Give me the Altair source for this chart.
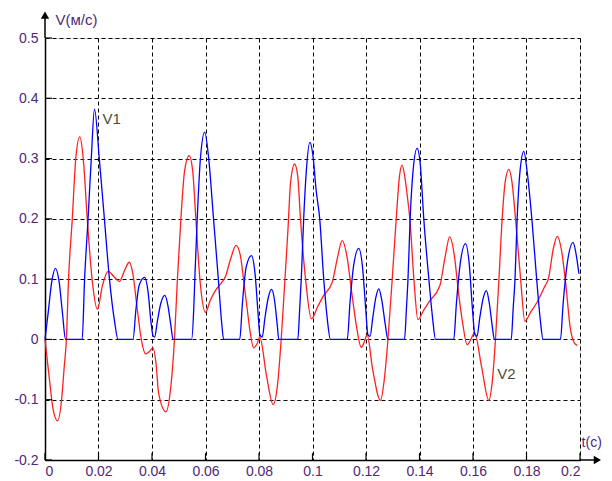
import altair as alt
import pandas as pd

# ---- data ----
v1_t = [0, 0.0012, 0.0025, 0.0039, 0.0053, 0.0065, 0.0077,
        0.0139, 0.0148, 0.0161, 0.0173, 0.0185, 0.0203, 0.0222, 0.0241, 0.0260, 0.0273,
        0.0329, 0.0340, 0.0352, 0.0373, 0.0385, 0.0396, 0.0404, 0.0410, 0.0420, 0.0433, 0.0448, 0.0460, 0.0470, 0.0479,
        0.0548, 0.0556, 0.0560, 0.0569, 0.0581, 0.0597, 0.0612, 0.0630, 0.0648, 0.0660, 0.0668,
        0.0728, 0.0738, 0.0752, 0.0772, 0.0785, 0.0797, 0.0803, 0.0812, 0.0822, 0.0835, 0.0847, 0.0858, 0.0868, 0.0874,
        0.0945, 0.0952, 0.0958, 0.0967, 0.0977, 0.0990, 0.1003, 0.1013, 0.1027, 0.1042, 0.1055, 0.1067,
        0.1130, 0.1140, 0.1153, 0.1173, 0.1187, 0.1199, 0.1207, 0.1215, 0.1225, 0.1237, 0.1248, 0.1259, 0.1272, 0.1282,
        0.1344, 0.1351, 0.1357, 0.1365, 0.1376, 0.1391, 0.1403, 0.1416, 0.1435, 0.1449, 0.1460,
        0.1528, 0.1538, 0.1552, 0.1572, 0.1586, 0.1598, 0.1607, 0.1615, 0.1625, 0.1638, 0.1650, 0.1661, 0.1672, 0.1680,
        0.1743, 0.1750, 0.1757, 0.1765, 0.1776, 0.1790, 0.1802, 0.1820, 0.1838, 0.1851, 0.1862,
        0.1927, 0.1937, 0.1952, 0.1974, 0.1986, 0.1996]
v1_v = [0, 0.045, 0.095, 0.118, 0.095, 0.045, 0,
        0, 0.10, 0.20, 0.30, 0.382, 0.30, 0.20, 0.10, 0.03, 0,
        0, 0.05, 0.09, 0.103, 0.08, 0.03, 0.006, 0.004, 0.03, 0.06, 0.073, 0.055, 0.025, 0,
        0, 0.05, 0.10, 0.20, 0.30, 0.344, 0.30, 0.20, 0.10, 0.03, 0,
        0, 0.06, 0.12, 0.139, 0.11, 0.04, 0.008, 0.004, 0.035, 0.07, 0.083, 0.065, 0.025, 0,
        0, 0.05, 0.10, 0.20, 0.28, 0.327, 0.30, 0.25, 0.20, 0.10, 0.035, 0,
        0, 0.06, 0.12, 0.151, 0.12, 0.05, 0.008, 0.005, 0.035, 0.07, 0.084, 0.065, 0.025, 0,
        0, 0.05, 0.10, 0.20, 0.28, 0.317, 0.29, 0.20, 0.10, 0.035, 0,
        0, 0.06, 0.125, 0.159, 0.125, 0.05, 0.008, 0.005, 0.035, 0.068, 0.081, 0.06, 0.022, 0,
        0, 0.05, 0.10, 0.20, 0.28, 0.312, 0.28, 0.20, 0.10, 0.035, 0,
        0, 0.06, 0.125, 0.161, 0.14, 0.109]

v2_t = [0, 0.0015, 0.0030, 0.0047, 0.0062, 0.0072, 0.0080, 0.0088, 0.0102, 0.0115, 0.0130, 0.0143, 0.0158, 0.0176,
        0.0196, 0.0215, 0.0236, 0.0258, 0.0278, 0.0298, 0.0315, 0.0328, 0.0345, 0.0360, 0.0376, 0.0390, 0.0404,
        0.0415, 0.0425, 0.0452, 0.0470, 0.0484, 0.0495, 0.0508, 0.0522, 0.0539, 0.0552, 0.0564, 0.0579,
        0.0600, 0.0618, 0.0637, 0.0656, 0.0675, 0.0695, 0.0714, 0.0730, 0.0743, 0.0756, 0.0766, 0.0780, 0.0792,
        0.0803, 0.0828, 0.0853, 0.0868, 0.0883, 0.0897, 0.0908, 0.0918, 0.0933, 0.0945, 0.0955, 0.0974,
        0.0996, 0.1020, 0.1042, 0.1074, 0.1093, 0.1111, 0.1128, 0.1148, 0.1165, 0.1182, 0.1193, 0.1204,
        0.1225, 0.1254, 0.1270, 0.1282, 0.1298, 0.1313, 0.1325, 0.1335, 0.1345, 0.1354, 0.1364, 0.1379,
        0.1394, 0.1415, 0.1435, 0.1476, 0.1495, 0.1513, 0.1530, 0.1547, 0.1562, 0.1578, 0.1592, 0.1606,
        0.1632, 0.1659, 0.1672, 0.1684, 0.1697, 0.1709, 0.1720, 0.1734, 0.1746, 0.1759, 0.1778,
        0.1794, 0.1815, 0.1840, 0.1865, 0.1883, 0.1900, 0.1915, 0.1930, 0.1946, 0.1964, 0.1978, 0.1990]
v2_v = [0, -0.06, -0.115, -0.135, -0.10, -0.045, 0, 0.10, 0.20, 0.30, 0.336, 0.30, 0.20, 0.10,
        0.05, 0.09, 0.113, 0.104, 0.096, 0.115, 0.128, 0.11, 0.05, 0.0, -0.024, -0.02, -0.014,
        -0.04, -0.09, -0.12, -0.08, 0, 0.10, 0.20, 0.28, 0.305, 0.28, 0.20, 0.10,
        0.045, 0.065, 0.081, 0.092, 0.105, 0.135, 0.156, 0.14, 0.097, 0.05, 0.015, -0.014, -0.008,
        0.004, -0.06, -0.108, -0.08, 0, 0.10, 0.18, 0.26, 0.291, 0.27, 0.20, 0.10,
        0.034, 0.055, 0.073, 0.095, 0.135, 0.164, 0.14, 0.073, 0.02, -0.013, -0.005, 0.008,
        -0.05, -0.101, -0.06, 0, 0.10, 0.20, 0.27, 0.289, 0.27, 0.239, 0.20, 0.10,
        0.033, 0.048, 0.062, 0.089, 0.135, 0.17, 0.14, 0.073, 0.025, -0.009, 0.0, 0.011,
        -0.045, -0.101, -0.07, 0, 0.10, 0.20, 0.26, 0.282, 0.26, 0.20, 0.10,
        0.03, 0.045, 0.062, 0.085, 0.103, 0.15, 0.171, 0.15, 0.095, 0.018, -0.005, -0.01]

x_ticks = [0, 0.02, 0.04, 0.06, 0.08, 0.1, 0.12, 0.14, 0.16, 0.18, 0.2]
y_ticks = [-0.2, -0.1, 0, 0.1, 0.2, 0.3, 0.4, 0.5]

labels = ["V1", "V2", "V(м/с)", "t(c)"]
label_t = [0.0215, 0.1691, 0.0039, 0.2006]
label_v = [0.366, -0.058, 0.53, -0.172]
label_size = [15, 15, 15, 14]

LABEL_COLOR = "#502878"
FONT = "Liberation Sans"

d1 = pd.DataFrame({"t": v1_t, "v": v1_v})
d2 = pd.DataFrame({"t": v2_t, "v": v2_v})

xs = alt.Scale(domain=[0, 0.2], nice=False, zero=False)
ys = alt.Scale(domain=[-0.2, 0.5], nice=False, zero=False)

xaxis = alt.Axis(values=x_ticks, labelExpr="'' + datum.value", grid=True, gridDash=[4, 3],
                 gridColor="#000000", gridOpacity=1, gridWidth=1, ticks=False,
                 domainColor="#000000", domainWidth=1.5, labelColor=LABEL_COLOR,
                 labelFont=FONT, labelFontSize=14, labelPadding=4, title=None)
yaxis = alt.Axis(values=y_ticks, labelExpr="'' + datum.value", grid=True, gridDash=[4, 3],
                 gridColor="#000000", gridOpacity=1, gridWidth=1, ticks=False,
                 domainColor="#000000", domainWidth=1.5, labelColor=LABEL_COLOR,
                 labelFont=FONT, labelFontSize=14, labelPadding=7, title=None)

line1 = alt.Chart(d1).mark_line(color="#0000ff", strokeWidth=1.3, interpolate="monotone").encode(
    x=alt.X("t:Q", scale=xs, axis=xaxis),
    y=alt.Y("v:Q", scale=ys, axis=yaxis),
)
line2 = alt.Chart(d2).mark_line(color="#ff2020", strokeWidth=1.3, interpolate="monotone").encode(
    x=alt.X("t:Q", scale=xs),
    y=alt.Y("v:Q", scale=ys),
)

# inward tick marks
xt = pd.DataFrame({"t": x_ticks, "v0": [-0.2] * len(x_ticks), "v1": [-0.1885] * len(x_ticks)})
yt = pd.DataFrame({"v": y_ticks, "t0": [0] * len(y_ticks), "t1": [0.0026] * len(y_ticks)})
xticks = alt.Chart(xt).mark_rule(color="#000000", strokeWidth=1.2).encode(
    x=alt.X("t:Q", scale=xs), y=alt.Y("v0:Q", scale=ys), y2="v1:Q")
yticks = alt.Chart(yt).mark_rule(color="#000000", strokeWidth=1.2).encode(
    y=alt.Y("v:Q", scale=ys), x=alt.X("t0:Q", scale=xs), x2="t1:Q")

# axis extensions with arrows
ext = pd.DataFrame({"t0": [0, 0.2], "t1": [0, 0.2065], "v0": [0.5, -0.2], "v1": [0.54, -0.2]})
exts = alt.Chart(ext).mark_rule(color="#000000", strokeWidth=1.5).encode(
    x=alt.X("t0:Q", scale=xs), x2="t1:Q", y=alt.Y("v0:Q", scale=ys), y2="v1:Q")
arr_up = alt.Chart(pd.DataFrame({"t": [0], "v": [0.538]})).mark_point(
    shape="triangle-up", filled=True, color="#000000", size=70, opacity=1).encode(
    x=alt.X("t:Q", scale=xs), y=alt.Y("v:Q", scale=ys))
arr_right = alt.Chart(pd.DataFrame({"t": [0.2065], "v": [-0.2]})).mark_point(
    shape="triangle-right", filled=True, color="#000000", size=70, opacity=1).encode(
    x=alt.X("t:Q", scale=xs), y=alt.Y("v:Q", scale=ys))

lab = pd.DataFrame({"label": labels, "t": label_t, "v": label_v, "s": label_size,
                    "c": ["#4d4d33", "#4d4d33", LABEL_COLOR, LABEL_COLOR]})
texts = alt.Chart(lab).mark_text(align="left", baseline="middle", font=FONT).encode(
    x=alt.X("t:Q", scale=xs), y=alt.Y("v:Q", scale=ys), text="label:N",
    color=alt.Color("c:N", scale=None), size=alt.Size("s:Q", scale=None))

chart = alt.layer(line2, line1, xticks, yticks, exts, arr_up, arr_right, texts).properties(
    width=535, height=422,
    autosize=alt.AutoSizeParams(type="none"),
    padding={"left": 37, "top": 30, "right": 24, "bottom": 21},
).configure_view(stroke=None).configure(background="#ffffff")

chart.save("out.html", embed_options={"renderer": "svg", "actions": False})
